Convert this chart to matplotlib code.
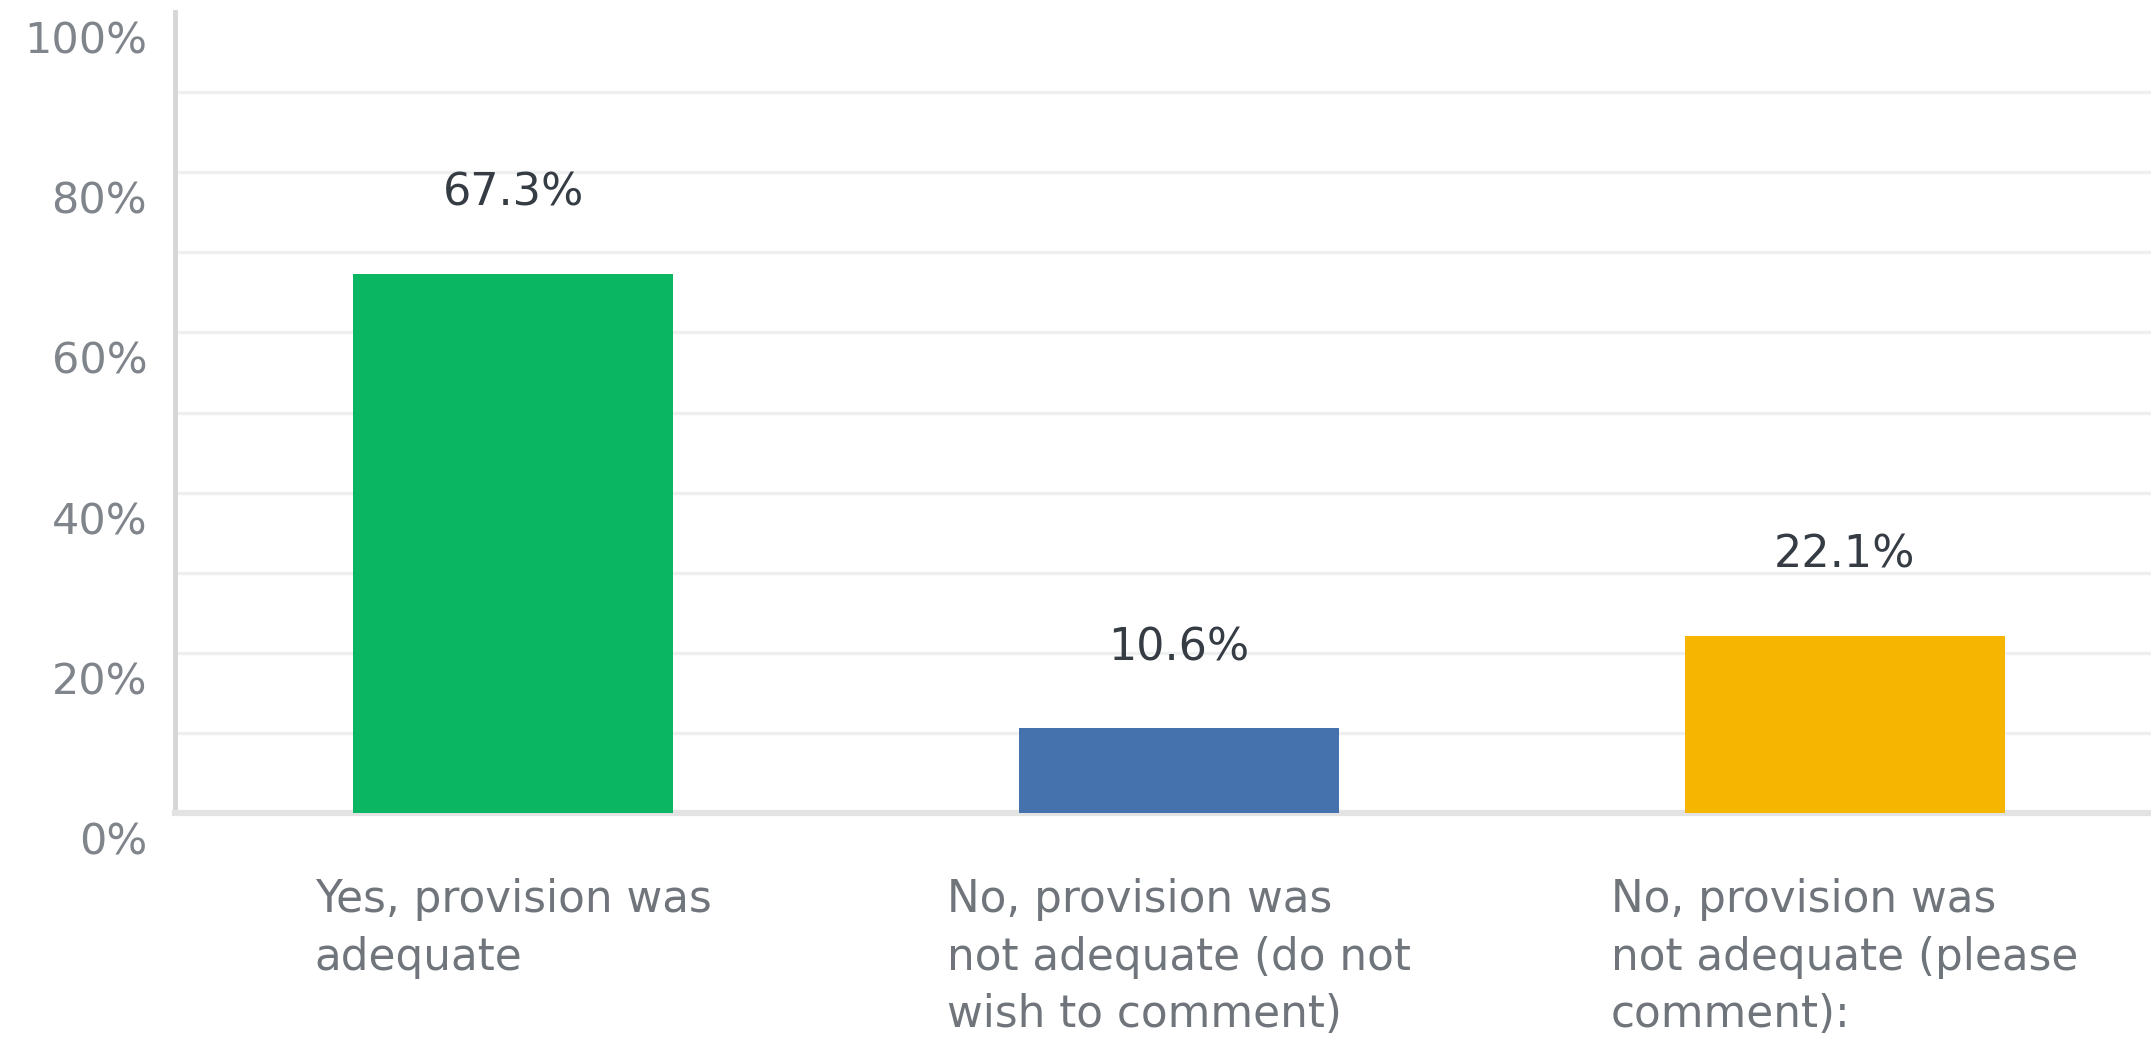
import matplotlib
matplotlib.use("Agg")
import matplotlib.pyplot as plt
from matplotlib.transforms import ScaledTranslation
import numpy as np

categories = [
    "Yes, provision was\nadequate",
    "No, provision was\nnot adequate (do not\nwish to comment)",
    "No, provision was\nnot adequate (please\ncomment):",
]
values = [67.3, 10.6, 22.1]
colors = ["#0bb662", "#4571ac", "#f6b500"]
ytick_vals = [0, 20, 40, 60, 80, 100]
ytick_labels = ["0%", "20%", "40%", "60%", "80%", "100%"]

DPI = 100
plt.rcParams["font.family"] = "DejaVu Sans"

fig = plt.figure(figsize=(21.51, 10.37), dpi=DPI)
ax = fig.add_axes([175 / 2151, 224 / 1037, 1 - 175 / 2151, (813 - 12) / 1037])

x = np.arange(len(values))
ax.bar(x, values, width=0.48, color=colors, zorder=3)

for xi, v in zip(x, values):
    ax.annotate(f"{v}%", (xi, v), xytext=(0, 58), textcoords="offset points",
                ha="center", va="center", fontsize=32, color="#363c44")

ax.set_xlim(-0.508, 2.46)
ax.set_ylim(0, 100)

# gridlines every 10%, labels every 20%
ax.yaxis.remove_overlapping_locs = False
ax.set_yticks(ytick_vals)
ax.set_yticklabels(ytick_labels, fontsize=31, color="#80858c")
ax.set_yticks(np.arange(10, 100, 10), minor=True)
ax.tick_params(axis="y", which="both", length=0, pad=20)
ax.yaxis.grid(True, which="minor", color="#eeefef", linewidth=2.4, zorder=0)
ax.yaxis.grid(False, which="major")
off = ScaledTranslation(0, -25 / DPI, fig.dpi_scale_trans)
for lab in ax.get_yticklabels():
    lab.set_transform(lab.get_transform() + off)

ax.set_xticks(x)
ax.set_xticklabels(categories, fontsize=31.5, color="#70757c",
                   multialignment="left", linespacing=1.42)
ax.tick_params(axis="x", length=0, pad=47)

for s in ["top", "right"]:
    ax.spines[s].set_visible(False)
ax.spines["left"].set_color("#d6d6d6")
ax.spines["left"].set_linewidth(3.5)
ax.spines["bottom"].set_color("#e3e3e3")
ax.spines["bottom"].set_linewidth(4.5)

fig.savefig("out.png", dpi=DPI, facecolor="white")
